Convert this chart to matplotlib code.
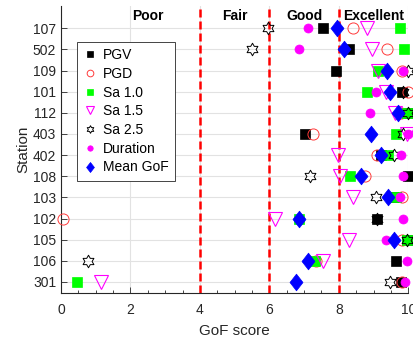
import numpy as np
import matplotlib
matplotlib.use("Agg")
import matplotlib.pyplot as plt
from matplotlib.path import Path
from matplotlib.lines import Line2D

plt.rcParams["font.family"] = ["Liberation Sans", "DejaVu Sans"]

# ── Data (rows listed top to bottom) ───────────────────────────────────────
stations = ["107", "502", "109", "101", "112", "403", "402",
            "108", "103", "102", "105", "106", "301"]

pgv      = [7.55, 8.30, 7.91, 9.81, 9.95, 7.03, 9.20, 9.98, 9.64, 9.11, 9.95, 9.66, 9.79]
pgd      = [8.42, 9.38, 9.81, 10.0, 9.80, 7.27, 9.10, 8.76, 9.81, 0.07, 9.81, 7.33, 9.81]
sa10     = [9.77, 9.89, 9.12, 8.80, 9.95, 9.64, 9.43, 8.32, 9.64, 6.86, 9.95, 7.30, 0.47]
sa15     = [8.81, 8.95, 9.13, 9.36, 9.61, 9.96, 7.99, 8.02, 8.42, 6.16, 8.28, 7.55, 1.14]
sa25     = [5.95, 5.49, 10.0, 9.85, 9.98, 9.84, 9.60, 7.17, 9.08, 9.10, 9.95, 0.78, 9.47]
duration = [7.12, 6.85, 9.86, 9.08, 8.90, 10.0, 9.78, 9.86, 9.76, 9.86, 9.37, 9.96, 9.90]
mean_gof = [7.94, 8.15, 9.38, 9.47, 9.71, 8.94, 9.21, 8.65, 9.43, 6.86, 9.58, 7.10, 6.77]

class_bounds = [4, 6, 8]
class_names = ["Poor", "Fair", "Good", "Excellent"]
class_pos = [2.5, 5, 7, 9]

# ── Custom markers ─────────────────────────────────────────────────────────
ang = np.pi / 2 + np.arange(12) * np.pi / 6
rad = np.where(np.arange(12) % 2 == 0, 1.0, 0.577)
hexagram = Path(np.column_stack([rad * np.cos(ang), rad * np.sin(ang)]).tolist()
                + [[0, 1]], closed=True)
diamond = Path([(0, 1), (0.78, 0), (0, -1), (-0.78, 0), (0, 1)], closed=True)

y = np.arange(len(stations))

fig = plt.figure(figsize=(4.14, 3.41), dpi=100)
ax = fig.add_axes([0.1473, 0.1408, 0.8389, 0.8416])

for xb in class_bounds:
    ax.axvline(xb, color="#ff0000", lw=1.8, ls=(0, (3.2, 1.6)), zorder=2)

series = [
    (pgv,      dict(marker="s", ms=6.5, mfc="k", mec="k", mew=0.5)),
    (pgd,      dict(marker="o", ms=8, mfc="none", mec="#ff3b3b", mew=0.7)),
    (sa10,     dict(marker="s", ms=7, mfc="#00ff00", mec="#00ff00", mew=0.5)),
    (sa15,     dict(marker="v", ms=10, mfc="none", mec="#ff00ff", mew=0.8)),
    (sa25,     dict(marker=hexagram, ms=9, mfc="none", mec="k", mew=0.7)),
    (duration, dict(marker="o", ms=6.5, mfc="#ff00ff", mec="#ff00ff", mew=0.5)),
    (mean_gof, dict(marker=diamond, ms=12, mfc="#0000ff", mec="#0000ff", mew=0.5)),
]
for i, (vals, kw) in enumerate(series):
    ax.plot(vals, y, ls="none", zorder=3 + i, clip_on=False, **kw)

for name, xp in zip(class_names, class_pos):
    ax.text(xp, -0.57, name, ha="center", va="center", fontsize=10,
            fontweight="bold", color="k")

ax.set_xlim(0, 10)
ax.set_ylim(12.52, -1.05)
ax.set_yticks(y)
ax.set_yticklabels(stations)
ax.set_xticks([0, 2, 4, 6, 8, 10])
ax.set_xticks(np.arange(0, 10.01, 0.5), minor=True)
ax.grid(True, which="major", color="#e2e2e2", lw=0.8, zorder=0)
ax.set_axisbelow(True)
ax.spines["top"].set_visible(False)
ax.spines["right"].set_visible(False)
for s in ["left", "bottom"]:
    ax.spines[s].set_color("#262626")
    ax.spines[s].set_linewidth(0.8)
ax.tick_params(axis="both", which="major", direction="in", length=4,
               labelsize=10, colors="#262626", width=0.6)
ax.tick_params(axis="x", which="minor", direction="in", length=2.5,
               width=0.6, colors="#262626")
ax.tick_params(axis="x", pad=7)
ax.set_xlabel("GoF score", fontsize=11, color="#262626", labelpad=5)
ax.set_ylabel("Station", fontsize=11, color="#262626", labelpad=2)

labels = ["PGV", "PGD", "Sa 1.0", "Sa 1.5", "Sa 2.5", "Duration", "Mean GoF"]
handles = []
for (vals, kw), lab in zip(series, labels):
    hk = dict(kw)
    hk["ms"] = kw["ms"] * 0.6
    handles.append(Line2D([], [], ls="none", label=lab, **hk))
leg = ax.legend(handles=handles, loc="upper left", bbox_to_anchor=(0.046, 0.875),
                borderaxespad=0, fontsize=10, frameon=True, fancybox=False,
                framealpha=1, edgecolor="#262626", labelspacing=0.34,
                handlelength=1.0, handletextpad=0.45, borderpad=0.45)
leg.get_frame().set_linewidth(0.6)
leg.set_zorder(20)

fig.savefig("out.png", dpi=100)
